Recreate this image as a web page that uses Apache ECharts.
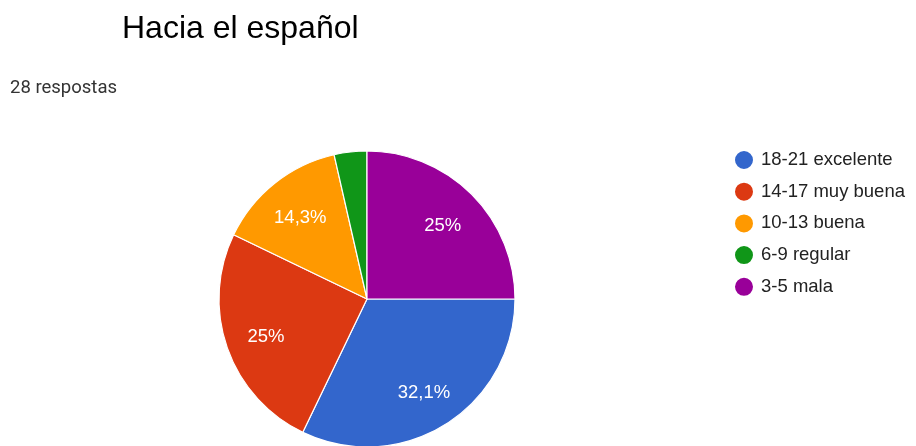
<!DOCTYPE html>
<html><head><meta charset="utf-8">
<script src="https://cdn.jsdelivr.net/npm/echarts@6/dist/echarts.min.js"></script>
<style>html,body{margin:0;padding:0;background:#fff}#c{width:916px;height:446px}</style>
</head><body><div id="c"></div>
<script>
const categories = ['18-21 excelente','14-17 muy buena','10-13 buena','6-9 regular','3-5 mala'];
const counts = [9, 7, 4, 1, 7];
const colors = ['#3366cc','#dc3912','#ff9900','#109618','#990099'];
const titleText = 'Hacia el español';
const subText = '28 respostas';

const total = counts.reduce((a,b)=>a+b,0);
const fmt = p => (Math.round(p*10)/10).toString().replace('.', ',') + '%';
const data = categories.map((n,i)=>({name:n, value:counts[i], itemStyle:{color:colors[i]}}));
const chart = echarts.init(document.getElementById('c'), null, {renderer:'canvas'});
chart.setOption({
  animation:false,
  title:[
    {text:titleText, left:122, top:13, padding:0, textStyle:{fontFamily:'Liberation Sans, Arial', fontSize:32, lineHeight:32, fontWeight:'normal', color:'#000'}},
    {text:subText, left:10, top:78, padding:0, textStyle:{fontFamily:'Roboto', fontSize:18.5, lineHeight:20, fontWeight:'normal', color:'#333'}}
  ],
  legend:{
    orient:'vertical', left:733, top:149, padding:0, icon:'circle', itemWidth:20, itemHeight:20, itemGap:9.7,
    data:categories,
    textStyle:{fontFamily:'Liberation Sans, Arial', fontSize:18.5, lineHeight:20, color:'#222', padding:[0,0,0,2]}
  },
  series:[
    {type:'pie', center:[367,299], radius:[0,148], startAngle:0, clockwise:true,
     data:data, label:{show:false}, labelLine:{show:false},
     itemStyle:{borderColor:'#fff', borderWidth:1.2}, emphasis:{disabled:true}},
    {type:'pie', center:[367,299], radius:[60,148], startAngle:0, clockwise:true, silent:true,
     data:categories.map((n,i)=>({name:n, value:counts[i], itemStyle:{color:'rgba(0,0,0,0)'}})),
     itemStyle:{borderWidth:0},
     label:{show:true, position:'inside', offset:[0,3], color:'#fff', fontFamily:'Liberation Sans, Arial', fontSize:18.5,
       formatter:p => (p.value/total < 0.05 ? '' : fmt(p.value/total*100))},
     labelLine:{show:false}, emphasis:{disabled:true}}
  ]
});
</script></body></html>
